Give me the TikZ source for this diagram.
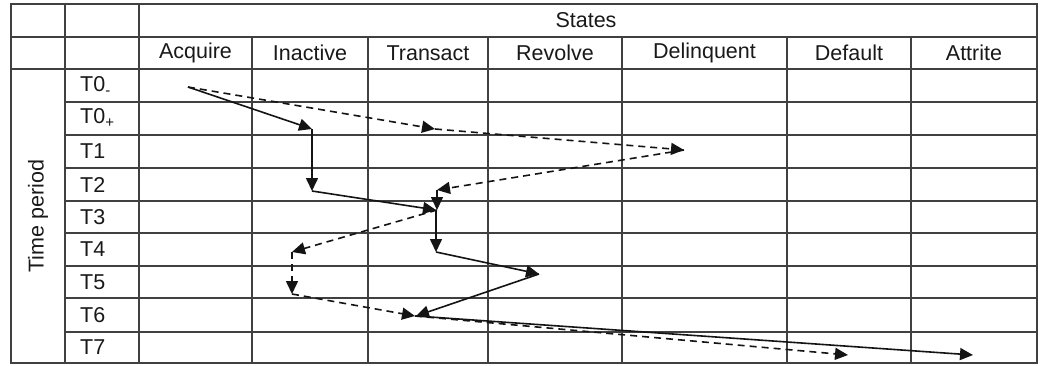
\documentclass[tikz,border=0pt]{standalone}
\usepackage{fontspec}
\setmainfont{Liberation Sans}
\usetikzlibrary{arrows.meta}
\begin{document}
\begin{tikzpicture}[x=1pt,y=-1pt,
  grid/.style={draw=black!75,line width=1.7pt},
  lbl/.style={font=\fontsize{21.5}{25}\selectfont,text=black!90,inner sep=0pt},
  rowlbl/.style={lbl,anchor=west},
  trans/.style={draw=black!92,line width=1.6pt,-{Triangle[length=13pt,width=12pt]}},
  transd/.style={trans,dash pattern=on 7pt off 5pt}]
\useasboundingbox (0,0) rectangle (1042,365);
\fill[white] (0,0) rectangle (1042,365);

% table rules
\foreach \y in {37,69}
  \draw[grid] (11,\y) -- (1037,\y);
\foreach \y in {102,135,168,201,233,266,298,332}
  \draw[grid] (65,\y) -- (1037,\y);
\foreach \x in {252,368,488,622,787,911}
  \draw[grid] (\x,37) -- (\x,363);
\draw[grid] (65,4) -- (65,363);
\draw[grid] (139,4) -- (139,363);
\draw[grid] (11,4) rectangle (1037,363);

% headers
\node[lbl] (states) at (586,20.5) {States};
\node[lbl] (hA) at (195.5,53) {Acquire};
\node[lbl] (hI) at (310,53) {Inactive};
\node[lbl] (hT) at (428,53) {Transact};
\node[lbl] (hR) at (555,53) {Revolve};
\node[lbl] (hQ) at (704.5,53) {Delinquent};
\node[lbl] (hD) at (849,53) {Default};
\node[lbl] (hX) at (974,53) {Attrite};
\node[lbl,rotate=90] (tp) at (38,216) {Time period};

% time rows
\node[rowlbl] (r0) at (80,86) {T0\textsubscript{-}};
\node[rowlbl] (r1) at (80,118) {T0\textsubscript{+}};
\node[rowlbl] (r2) at (80,151.5) {T1};
\node[rowlbl] (r3) at (80,184.5) {T2};
\node[rowlbl] (r4) at (80,217) {T3};
\node[rowlbl] (r5) at (80,249.5) {T4};
\node[rowlbl] (r6) at (80,282) {T5};
\node[rowlbl] (r7) at (80,315) {T6};
\node[rowlbl] (r8) at (80,347.5) {T7};

% path points
\coordinate (a0) at (188,87);
\coordinate (s1) at (312,129);
\coordinate (s2) at (312,191);
\coordinate (s3) at (436,210);
\coordinate (s4) at (436,252);
\coordinate (s5) at (539,274);
\coordinate (s6) at (416,316);
\coordinate (s7) at (973,355);
\coordinate (d1) at (435,129);
\coordinate (d2) at (684,150);
\coordinate (d3) at (437,190);
\coordinate (d4) at (437,210);
\coordinate (d5) at (292,252);
\coordinate (d6) at (292,294);
\coordinate (d7) at (415,316);
\coordinate (d8) at (848,355);

% dashed trajectory
\draw[transd] (a0) -- (d1);
\draw[transd] (d1) -- (d2);
\draw[transd] (d2) -- (d3);
\draw[transd] (d3) -- (d4);
\draw[transd] (d4) -- (d5);
\draw[transd] (d5) -- (d6);
\draw[transd] (d6) -- (d7);
\draw[transd] (d7) -- (d8);

% solid trajectory
\draw[trans] (a0) -- (s1);
\draw[trans] (s1) -- (s2);
\draw[trans] (s2) -- (s3);
\draw[trans] (s3) -- (s4);
\draw[trans] (s4) -- (s5);
\draw[trans] (s5) -- (s6);
\draw[trans] (s6) -- (s7);
\end{tikzpicture}
\end{document}
